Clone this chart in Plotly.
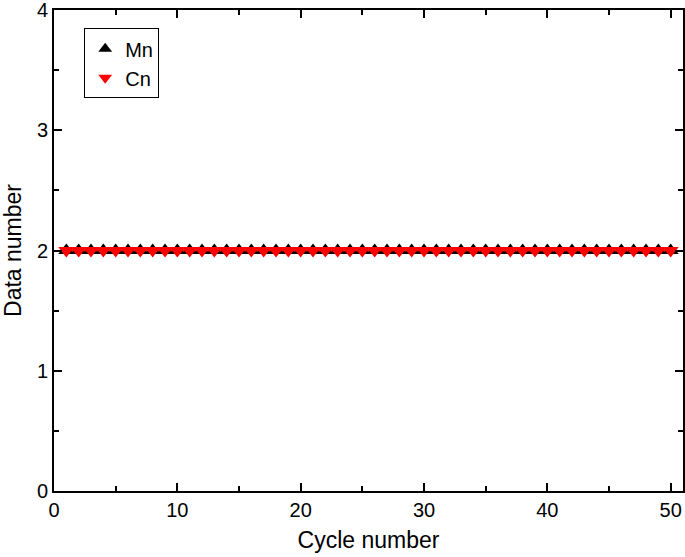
import plotly.graph_objects as go

cycles = list(range(1, 51))
mn_values = [2] * 50
cn_values = [2] * 50

x_ticks = [0, 10, 20, 30, 40, 50]
y_ticks = [0, 1, 2, 3, 4]

fig = go.Figure()
fig.add_trace(go.Scatter(
    x=cycles, y=mn_values, name="Mn", mode="lines+markers", showlegend=False,
    line=dict(color="black", width=1.5),
    marker=dict(symbol="triangle-up", size=14, color="black"),
))
fig.add_trace(go.Scatter(
    x=cycles, y=cn_values, name="Cn", mode="lines+markers", showlegend=False,
    line=dict(color="red", width=1.5),
    marker=dict(symbol="triangle-down", size=14, color="red"),
))
# legend entries (markers only)
fig.add_trace(go.Scatter(
    x=[None], y=[None], name="Mn", mode="markers",
    marker=dict(symbol="triangle-up", size=14, color="black"),
))
fig.add_trace(go.Scatter(
    x=[None], y=[None], name="Cn", mode="markers",
    marker=dict(symbol="triangle-down", size=14, color="red"),
))

font = "Liberation Sans, Arial, sans-serif"
axis_common = dict(
    showline=True, linecolor="black", linewidth=2, mirror="allticks",
    ticks="inside", ticklen=8, tickwidth=2, tickcolor="black",
    showgrid=False, zeroline=False, automargin=False,
    ticklabeloverflow="allow",
    tickfont=dict(family=font, size=20, color="black"),
)

fig.update_layout(
    width=685, height=557,
    margin=dict(l=54, r=2, t=10, b=66),
    paper_bgcolor="white", plot_bgcolor="white",
    showlegend=True,
    legend=dict(
        x=0.048, y=0.962, xanchor="left", yanchor="top",
        bordercolor="black", borderwidth=1, bgcolor="white",
        font=dict(family=font, size=20, color="black"),
        itemsizing="constant", tracegroupgap=0, itemwidth=30,
    ),
    xaxis=dict(
        range=[0, 51], tickvals=x_ticks,
        minor=dict(ticks="inside", dtick=5, ticklen=5, tickwidth=2, tickcolor="black"),
        title=dict(text="Cycle number", font=dict(family=font, size=23, color="black"), standoff=12),
        **axis_common,
    ),
    yaxis=dict(
        range=[0, 4], tickvals=y_ticks,
        minor=dict(ticks="inside", dtick=0.5, ticklen=5, tickwidth=2, tickcolor="black"),
        title=dict(text="Data number", font=dict(family=font, size=23, color="black"), standoff=12),
        **axis_common,
    ),
)

fig.write_html(
    "out.html",
    config={"displayModeBar": False},
    post_script="document.body.style.margin='0';document.body.style.overflow='hidden';",
)
